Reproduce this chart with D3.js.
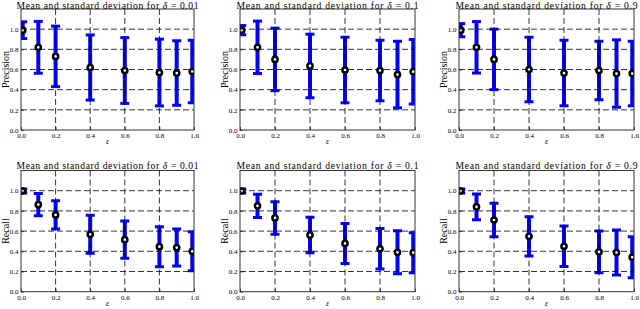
<!DOCTYPE html>
<html>
<head>
<meta charset="utf-8">
<script src="https://cdn.jsdelivr.net/npm/d3@7.9.0/dist/d3.min.js"></script>
<style>
  body { margin: 0; background: #fff; }
  svg { display: block; }
  text { font-family: "Liberation Serif", "DejaVu Serif", serif; fill: #000; }
</style>
</head>
<body>
<svg id="chart" width="640" height="309"></svg>
<script>
// epsilon values on the x axis
const eps = [0.01, 0.1, 0.2, 0.4, 0.6, 0.8, 0.9, 0.99];
const deltaLabels = ["0.01", "0.1", "0.9"];
const xTicks = [0.0, 0.2, 0.4, 0.6, 0.8, 1.0];
const yTicks = [0.0, 0.2, 0.4, 0.6, 0.8, 1.0];

// precision: mean and std per delta
const precMean001 = [0.99, 0.82, 0.73, 0.62, 0.59, 0.57, 0.565, 0.58];
const precStd001  = [0.083, 0.257, 0.30, 0.323, 0.326, 0.331, 0.32, 0.31];
const precMean01  = [0.99, 0.82, 0.70, 0.635, 0.595, 0.59, 0.55, 0.578];
const precStd01   = [0.046, 0.26, 0.31, 0.315, 0.325, 0.30, 0.33, 0.32];
const precMean09  = [0.99, 0.82, 0.70, 0.60, 0.565, 0.59, 0.56, 0.56];
const precStd09   = [0.065, 0.255, 0.30, 0.32, 0.325, 0.29, 0.334, 0.32];

// recall: mean and std per delta
const recMean001 = [0.997, 0.863, 0.76, 0.568, 0.515, 0.446, 0.437, 0.40];
const recStd001  = [0.02, 0.11, 0.14, 0.188, 0.185, 0.198, 0.183, 0.193];
const recMean01  = [0.997, 0.85, 0.73, 0.561, 0.478, 0.425, 0.39, 0.386];
const recStd01   = [0.02, 0.115, 0.16, 0.175, 0.198, 0.20, 0.213, 0.198];
const recMean09  = [0.997, 0.84, 0.71, 0.548, 0.45, 0.394, 0.388, 0.342];
const recStd09   = [0.02, 0.128, 0.165, 0.195, 0.20, 0.206, 0.222, 0.203];

const rows = [
  { label: "Precision", means: [precMean001, precMean01, precMean09], stds: [precStd001, precStd01, precStd09], top: 9, bottom: 130 },
  { label: "Recall", means: [recMean001, recMean01, recMean09], stds: [recStd001, recStd01, recStd09], top: 170.5, bottom: 291.7 }
];
const cols = [ { left: 21, right: 194 }, { left: 240, right: 415 }, { left: 459, right: 634 } ];

const svg = d3.select('#chart');
let clipId = 0;

rows.forEach((row) => {
  cols.forEach((col, ci) => {
    const x = d3.scaleLinear().domain([0, 1]).range([col.left, col.right]);
    const y = d3.scaleLinear().domain([0, 1.2]).range([row.bottom, row.top]);
    const g = svg.append('g');

    const id = 'clip' + (clipId++);
    svg.append('clipPath').attr('id', id)
      .append('rect')
      .attr('x', col.left).attr('y', row.top)
      .attr('width', col.right - col.left).attr('height', row.bottom - row.top);

    const plot = g.append('g').attr('clip-path', `url(#${id})`);
    const means = row.means[ci];
    const stds = row.stds[ci];
    const data = eps.map((e, i) => ({ e: e, m: means[i], s: stds[i] }));

    // error bars
    const cap = 4.5;
    data.forEach((d) => {
      const cx = x(d.e);
      plot.append('line')
        .attr('x1', cx).attr('x2', cx)
        .attr('y1', y(d.m - d.s)).attr('y2', y(d.m + d.s))
        .attr('stroke', '#0000ff').attr('stroke-width', 4);
      [d.m - d.s, d.m + d.s].forEach((v) => {
        plot.append('line')
          .attr('x1', cx - cap).attr('x2', cx + cap)
          .attr('y1', y(v)).attr('y2', y(v))
          .attr('stroke', '#0000ff').attr('stroke-width', 3);
      });
    });

    // grid on top of the bars
    xTicks.slice(1, -1).forEach((t) => {
      plot.append('line')
        .attr('x1', x(t)).attr('x2', x(t))
        .attr('y1', row.top).attr('y2', row.bottom)
        .attr('stroke', '#000').attr('stroke-width', 0.8)
        .attr('stroke-dasharray', '6,3');
    });
    yTicks.slice(1).forEach((t) => {
      plot.append('line')
        .attr('x1', col.left).attr('x2', col.right)
        .attr('y1', y(t)).attr('y2', y(t))
        .attr('stroke', '#000').attr('stroke-width', 0.8)
        .attr('stroke-dasharray', '6,3');
    });

    // mean markers
    plot.selectAll('circle.mean')
      .data(data)
      .join('circle')
      .attr('class', 'mean')
      .attr('cx', (d) => x(d.e))
      .attr('cy', (d) => y(d.m))
      .attr('r', 2.6)
      .attr('fill', '#fff')
      .attr('stroke', '#000')
      .attr('stroke-width', 2.5);

    // frame
    g.append('rect')
      .attr('x', col.left).attr('y', row.top)
      .attr('width', col.right - col.left).attr('height', row.bottom - row.top)
      .attr('fill', 'none').attr('stroke', '#333').attr('stroke-width', 1);

    // axes
    const xAxis = d3.axisBottom(x).tickValues(xTicks).tickFormat(d3.format('.1f'))
      .tickSizeInner(-3).tickSizeOuter(0).tickPadding(3);
    const xg = g.append('g').attr('transform', `translate(0,${row.bottom})`).call(xAxis);
    const yAxis = d3.axisLeft(y).tickValues(yTicks).tickFormat(d3.format('.1f'))
      .tickSizeInner(-3).tickSizeOuter(0).tickPadding(2.5);
    const yg = g.append('g').attr('transform', `translate(${col.left},0)`).call(yAxis);
    [xg, yg].forEach((a) => {
      a.select('.domain').remove();
      a.selectAll('.tick line').attr('stroke', '#000').attr('stroke-width', 0.6);
      a.selectAll('.tick text').style('font-family', '"Liberation Serif", serif').attr('font-size', 7);
    });

    // title
    const title = g.append('text')
      .attr('x', (col.left + col.right) / 2)
      .attr('y', Math.max(row.top - 2, 8.6))
      .attr('text-anchor', 'middle')
      .attr('font-size', 9.6)
      .attr('textLength', 182)
      .attr('lengthAdjust', 'spacing');
    title.append('tspan').text('Mean and standard deviation for ');
    title.append('tspan').attr('font-style', 'italic').text('δ');
    title.append('tspan').text(' = ' + deltaLabels[ci]);

    // y label
    g.append('text')
      .attr('transform', `translate(${col.left - 12.5},${(row.top + row.bottom) / 2}) rotate(-90)`)
      .attr('text-anchor', 'middle')
      .attr('font-size', 10)
      .text(row.label);

    // x label
    g.append('text')
      .attr('x', (col.left + col.right) / 2)
      .attr('y', row.bottom + 14)
      .attr('text-anchor', 'middle')
      .attr('font-size', 8)
      .attr('font-style', 'italic')
      .text('ε');
  });
});
</script>
</body>
</html>
